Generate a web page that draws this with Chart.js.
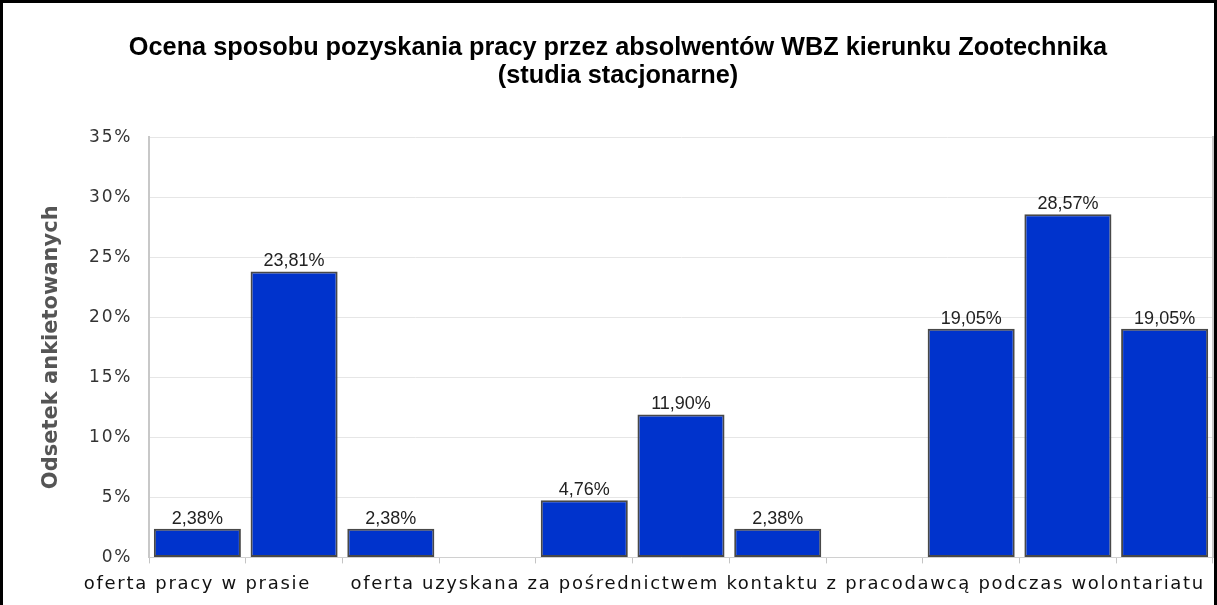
<!DOCTYPE html>
<html>
<head>
<meta charset="utf-8">
<script src="https://cdn.jsdelivr.net/npm/chart.js@4"></script>
<style>
    html, body { margin: 0; padding: 0; background: #fff; }
    #frame {
        position: absolute; left: 0; top: 0;
        width: 1217px; height: 605px;
        box-sizing: border-box;
        border: 3px solid #000; border-bottom: none;
    }
    #chart-box { position: relative; width: 1211px; height: 602px; }
</style>
</head>
<body>
<div id="frame"><div id="chart-box"><canvas id="bar-chart"></canvas></div></div>
<script>
// dane
const categories = [
    'oferta pracy w prasie', '', '', '', '', '',
    'oferta uzyskana za pośrednictwem kontaktu z pracodawcą podczas wolontariatu',
    '', '', '', ''
]
const values = [2.38, 23.81, 2.38, null, 4.76, 11.90, 2.38, null, 19.05, 28.57, 19.05]
const yTicks = [0, 5, 10, 15, 20, 25, 30, 35]
const titleLines = ['Ocena sposobu pozyskania pracy przez absolwentów WBZ kierunku Zootechnika', '(studia stacjonarne)']
const yTitle = 'Odsetek ankietowanych'

const axisSpacing = '1.7px'

// podpisy nad słupkami + rozstrzelony tekst osi
const valueLabels = {
    id: 'valueLabels',
    beforeLayout(chart) { chart.ctx.letterSpacing = axisSpacing },
    afterLayout(chart) { chart.ctx.letterSpacing = '0px' },
    beforeDraw(chart) { chart.ctx.letterSpacing = '0px' },
    afterDatasetsDraw(chart) {
        const ctx = chart.ctx
        const meta = chart.getDatasetMeta(0)
        ctx.save()
        ctx.letterSpacing = '0px'
        ctx.font = '18px "Liberation Sans", Arial, sans-serif'
        ctx.fillStyle = '#222'
        ctx.textAlign = 'center'
        ctx.textBaseline = 'bottom'
        meta.data.forEach((bar, i) => {
            const v = values[i]
            if (v === null) return
            ctx.fillText(v.toFixed(2).replace('.', ',') + '%', bar.x, bar.y - 1)
        })
        ctx.restore()
        ctx.letterSpacing = axisSpacing
    }
}

window.addEventListener('load', (event) => {
    const chartCanvas = document.getElementById('bar-chart').getContext('2d')
    const barChart = new Chart(chartCanvas, {
        type: 'bar',
        data: {
            labels: categories,
            datasets: [{
                data: values,
                backgroundColor: '#0033cc',
                borderColor: '#484848',
                borderWidth: 2,
                borderSkipped: false,
                categoryPercentage: 1.0,
                barPercentage: 0.9
            }]
        },
        options: {
            responsive: true,
            maintainAspectRatio: false,
            animation: false,
            layout: { padding: { left: 20, right: 1, top: 0, bottom: 0 } },
            plugins: {
                legend: { display: false },
                tooltip: { enabled: false },
                title: {
                    display: true,
                    text: titleLines,
                    color: '#000',
                    font: { family: '"Liberation Sans", Arial, sans-serif', size: 25.3, weight: 'bold', lineHeight: 1.11 },
                    padding: { top: 31, bottom: 47 }
                }
            },
            scales: {
                x: {
                    grid: { drawOnChartArea: false, drawTicks: true, tickLength: 6, color: '#c4c4c4', offset: true },
                    border: { color: '#d0d0d0' },
                    ticks: {
                        z: 1,
                        autoSkip: false,
                        maxRotation: 0,
                        minRotation: 0,
                        padding: 10,
                        color: '#111',
                        font: { family: '"DejaVu Sans", Verdana, sans-serif', size: 18 }
                    }
                },
                y: {
                    min: 0,
                    max: 35,
                    afterBuildTicks: (scale) => { scale.ticks = yTicks.map(v => ({ value: v })) },
                    afterFit: (scale) => { scale.width = 126 },
                    grid: { color: '#e6e6e6', drawTicks: false },
                    border: { color: '#c8c8c8', width: 2 },
                    ticks: {
                        z: 1,
                        padding: 17,
                        color: '#333',
                        font: { family: '"DejaVu Sans", Verdana, sans-serif', size: 17 },
                        callback: (v) => v + '%'
                    },
                    title: {
                        display: true,
                        text: yTitle,
                        color: '#555',
                        font: { family: '"DejaVu Sans", Verdana, sans-serif', size: 21, weight: 'bold' },
                        padding: { top: 16, bottom: 0 }
                    }
                },
                y2: {
                    position: 'right',
                    min: 0,
                    max: 35,
                    afterFit: (scale) => { scale.width = 0 },
                    grid: { drawOnChartArea: false, drawTicks: false },
                    border: { color: '#c8c8c8', width: 2 },
                    ticks: { display: false }
                }
            }
        },
        plugins: [valueLabels]
    })
})
</script>
</body>
</html>
